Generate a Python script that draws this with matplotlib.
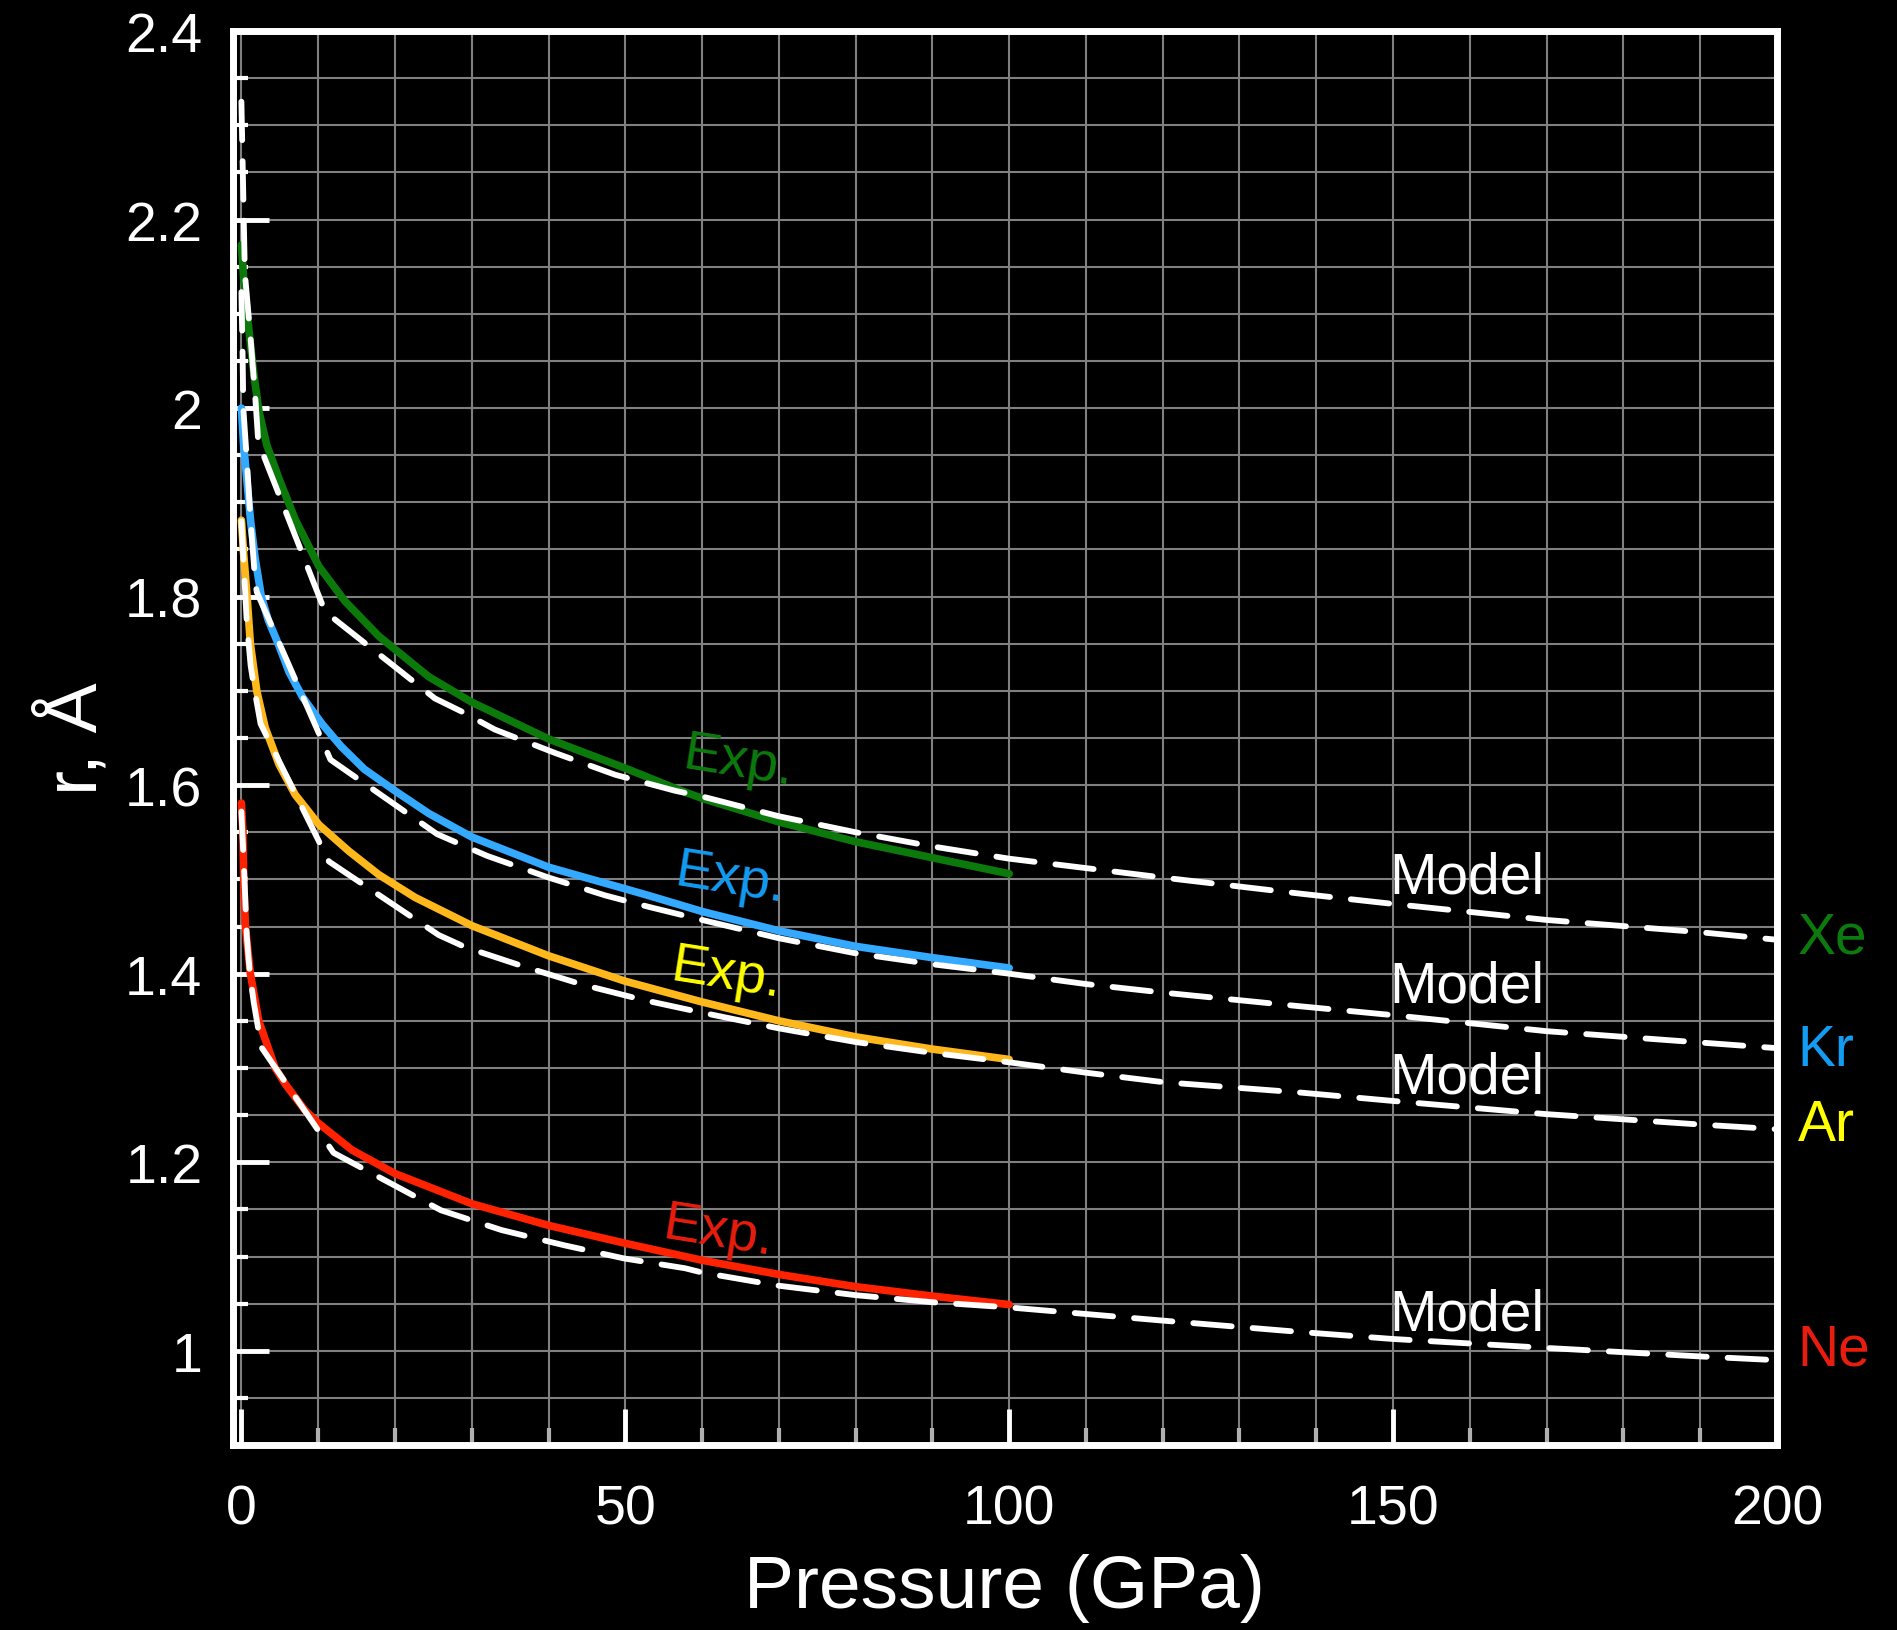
import matplotlib.pyplot as plt
from matplotlib.ticker import MultipleLocator, FuncFormatter

plt.rcParams['font.family'] = ['Liberation Sans', 'DejaVu Sans']

# experimental radii (pressure in GPa, r in angstrom)
xe_exp_p = [0, 0.3, 0.74, 1.2, 1.7, 2.3, 3.3, 4.9, 7.0, 10.1, 13.5, 17.9, 24.4, 30, 40, 50, 57, 60, 70, 80, 90, 100]
xe_exp_r = [2.173, 2.137, 2.101, 2.066, 2.031, 1.996, 1.961, 1.925, 1.882, 1.832, 1.795, 1.758, 1.715,
            1.688, 1.649, 1.618, 1.595, 1.586, 1.561, 1.540, 1.523, 1.506]

kr_exp_p = [0, 0.3, 0.7, 1.2, 1.8, 2.6, 3.5, 4.8, 6.2, 8.0, 10.5, 13, 16, 20, 24.4, 30, 40, 50, 53, 60, 70, 80, 90, 100]
kr_exp_r = [2.0, 1.96, 1.925, 1.88, 1.84, 1.80, 1.775, 1.75, 1.72, 1.693, 1.665, 1.641, 1.617, 1.594, 1.570,
            1.545, 1.513, 1.490, 1.483, 1.466, 1.4455, 1.429, 1.417, 1.406]

ar_exp_p = [0, 0.3, 0.74, 1.17, 2.0, 3.1, 4.9, 7.0, 10.1, 14, 17.9, 22.6, 30, 40, 50, 60, 70, 80, 90, 100]
ar_exp_r = [1.881, 1.845, 1.80, 1.75, 1.70, 1.661, 1.622, 1.590, 1.558, 1.530, 1.505, 1.481, 1.451, 1.419,
            1.392, 1.370, 1.350, 1.333, 1.320, 1.309]

ne_exp_p = [0, 0.2, 0.3, 0.52, 1.17, 2.26, 4.4, 5.7, 8.3, 10.1, 14.4, 20, 30, 40, 50, 60, 70, 80, 90, 100]
ne_exp_r = [1.581, 1.55, 1.50, 1.45, 1.40, 1.35, 1.30, 1.283, 1.255, 1.241, 1.213, 1.188, 1.156, 1.133,
            1.114, 1.096, 1.081, 1.068, 1.058, 1.049]

# model radii
xe_mod_p = [0, 0.45, 1.17, 1.82, 2.2, 10.9, 25.2, 28.7, 33, 40.9, 48.7, 56.5, 60, 70, 80, 90, 100,
            110, 120, 137.8, 150, 170, 190, 200]
xe_mod_r = [2.325, 2.143, 2.077, 2.01, 1.964, 1.784, 1.692, 1.678, 1.659, 1.634, 1.611, 1.594, 1.588,
            1.567, 1.550, 1.535, 1.522, 1.512, 1.502, 1.485, 1.474, 1.457, 1.444, 1.436]

kr_mod_p = [0, 0.15, 0.25, 0.7, 1.2, 1.8, 2.0, 11.6, 25.5, 32, 40, 47.4, 53, 60, 70, 80, 90, 100,
            110, 120, 137.8, 150, 170, 190, 200]
kr_mod_r = [2.123, 2.06, 2.0, 1.946, 1.88, 1.816, 1.805, 1.627, 1.548, 1.525, 1.502, 1.483, 1.471,
            1.457, 1.4376, 1.4216, 1.410, 1.400, 1.389, 1.380, 1.3655, 1.356, 1.339, 1.327, 1.321]

ar_mod_p = [0, 0.7, 1.2, 1.6, 2.5, 11.4, 25.7, 29.2, 37, 44.6, 52.4, 60.4, 70, 80, 90, 100, 110, 120,
            137.8, 150, 170, 190, 200]
ar_mod_r = [1.88, 1.773, 1.727, 1.706, 1.665, 1.519, 1.441, 1.428, 1.407, 1.388, 1.372, 1.358, 1.342,
            1.3275, 1.316, 1.306, 1.295, 1.285, 1.274, 1.265, 1.251, 1.240, 1.235]

ne_mod_p = [0, 0.35, 0.7, 1.1, 1.6, 2.6, 12.0, 26, 33.9, 42, 49.8, 57.8, 60, 70, 80, 90, 100, 110, 120,
            137.8, 150, 170, 190, 200]
ne_mod_r = [1.572, 1.51, 1.44, 1.40, 1.37, 1.322, 1.21, 1.149, 1.128, 1.112, 1.098, 1.0875, 1.083, 1.069,
            1.059, 1.0515, 1.046, 1.039, 1.032, 1.020, 1.0125, 1.003, 0.994, 0.990]

elements = ['Xe', 'Kr', 'Ar', 'Ne']
line_colors = ['#0b7a0b', '#33aaff', '#ffb81c', '#ff2200']
text_colors = ['#0c7a0c', '#129cf2', '#ffff00', '#e81d0e']

# label positions
exp_label_pos = [(64.7, 1.625), (63.7, 1.500), (63.2, 1.400), (62.1, 1.126)]
model_label_y = [1.486, 1.370, 1.274, 1.023]
element_label_y = [1.422, 1.303, 1.224, 0.985]

exp_p = [xe_exp_p, kr_exp_p, ar_exp_p, ne_exp_p]
exp_r = [xe_exp_r, kr_exp_r, ar_exp_r, ne_exp_r]
mod_p = [xe_mod_p, kr_mod_p, ar_mod_p, ne_mod_p]
mod_r = [xe_mod_r, kr_mod_r, ar_mod_r, ne_mod_r]

fig = plt.figure(figsize=(18.97, 16.31), dpi=100, facecolor='black')
ax = fig.add_axes([0.1228, 0.1134, 0.8139, 0.867])
ax.set_facecolor('black')

# experiment: solid coloured, model: white dashed on top
for i in range(4):
    ax.plot(exp_p[i], exp_r[i], color=line_colors[i], lw=5.5, solid_capstyle='round',
            solid_joinstyle='round', zorder=3)
    ax.plot(mod_p[i], mod_r[i], color='white', lw=4.2, dashes=(6.6, 3.6),
            dash_capstyle='round', zorder=4)
    ax.text(exp_label_pos[i][0], exp_label_pos[i][1], 'Exp.', color=text_colors[i], fontsize=40,
            rotation=-9, rotation_mode='anchor', ha='center', va='center', zorder=5)
    ax.text(149.5, model_label_y[i], 'Model', color='white', fontsize=41, ha='left', va='baseline', zorder=5)
    ax.text(202.7, element_label_y[i], elements[i], color=text_colors[i], fontsize=41,
            ha='left', va='baseline', clip_on=False)

ax.set_xlim(-1.1, 200)
ax.set_ylim(0.9, 2.4)

ax.xaxis.set_major_locator(MultipleLocator(50))
ax.xaxis.set_minor_locator(MultipleLocator(10))
ax.yaxis.set_major_locator(MultipleLocator(0.2))
ax.yaxis.set_minor_locator(MultipleLocator(0.05))
ax.yaxis.set_major_formatter(FuncFormatter(lambda v, pos: '%g' % round(v, 2)))

ax.grid(which='both', color='#808080', lw=1.5)
ax.set_axisbelow(True)

ax.tick_params(which='major', direction='in', length=26, width=3.5, color='white',
               labelcolor='white', labelsize=40, pad=22)
ax.tick_params(axis='x', which='major', pad=28)
ax.tick_params(axis='x', which='minor', direction='in', length=12, width=3, color='#b0b0b0')
ax.tick_params(axis='y', which='minor', direction='in', length=11, width=3, color='white')

for s in ax.spines.values():
    s.set_color('white')
    s.set_linewidth(5)

ax.set_xlabel('Pressure (GPa)', color='white', fontsize=54, labelpad=12)
ax.set_ylabel('r, Å', color='white', fontsize=54, labelpad=10)

plt.savefig('out.png', dpi=100, facecolor='black')
